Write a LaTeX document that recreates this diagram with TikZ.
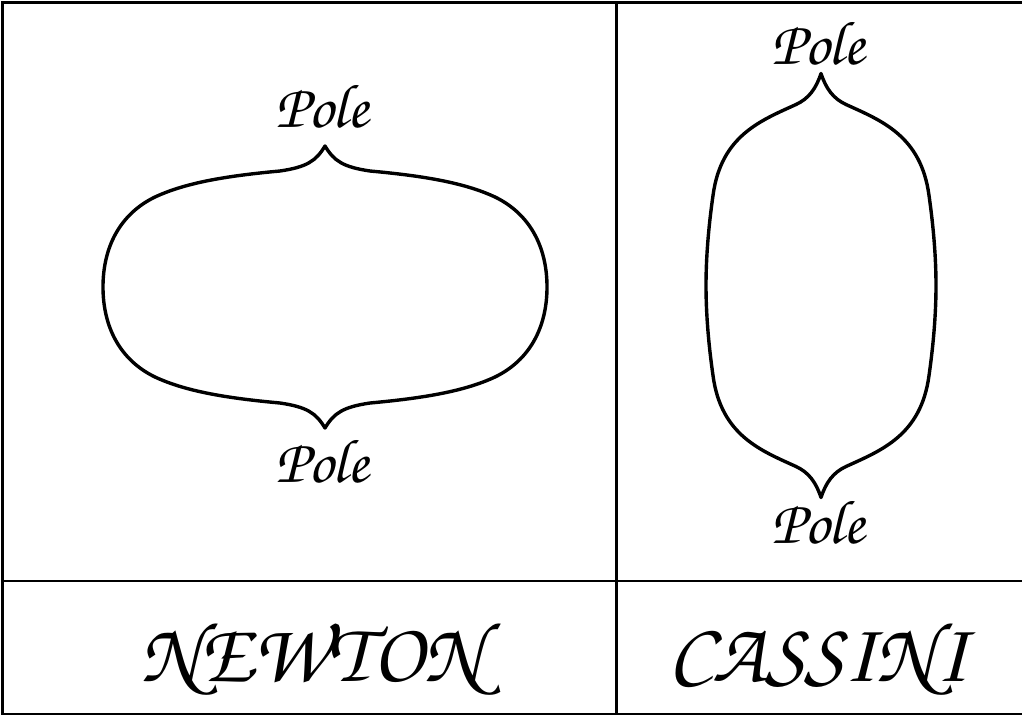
\documentclass[tikz,border=0pt]{standalone}
\newcommand{\chanc}{\fontencoding{T1}\fontfamily{pzc}\fontseries{mb}\fontshape{it}\selectfont}
\begin{document}
\begin{tikzpicture}[x=1pt,y=-1pt,
  frame/.style={line width=2.2pt,black},
  outline/.style={line width=3.4pt,black,line join=round},
  polelabel/.style={inner sep=0pt,font=\chanc\fontsize{62}{62}\selectfont},
  namelabel/.style={inner sep=0pt,font=\chanc\fontsize{85}{85}\selectfont}]
\useasboundingbox (0,0) rectangle (1022,715);
% frame and dividers
\draw[frame] (1030,2.5) -- (2.5,2.5) -- (2.5,714) -- (1030,714);
\coordinate (vtop) at (616.5,2.5);
\coordinate (vbot) at (616.5,714);
\coordinate (hl) at (2.5,581);
\coordinate (hr) at (1030,581);
\draw[frame] (vtop) -- (vbot);
\draw[frame] (hl) -- (hr);
% Newton figure
\begin{scope}[shift={(325,287)}]
\draw[outline] (0,-141) .. controls (9,-126) and (18,-120) .. (45,-116)
  .. controls (100,-111) and (140,-104) .. (170,-90)
  .. controls (205,-73) and (222,-40) .. (222,0)
  .. controls (222,40) and (205,73) .. (170,90)
  .. controls (140,104) and (100,111) .. (45,116)
  .. controls (18,120) and (9,126) .. (0,141)
  .. controls (-9,126) and (-18,120) .. (-45,116)
  .. controls (-100,111) and (-140,104) .. (-170,90)
  .. controls (-205,73) and (-222,40) .. (-222,0)
  .. controls (-222,-40) and (-205,-73) .. (-170,-90)
  .. controls (-140,-104) and (-100,-111) .. (-45,-116)
  .. controls (-18,-120) and (-9,-126) .. (0,-141) -- cycle;
\end{scope}
% Cassini figure
\begin{scope}[shift={(821,285.5)}]
\draw[outline] (0,-212) .. controls (5,-197) and (12,-187) .. (25,-181)
  .. controls (60,-165) and (100,-150) .. (108,-90)
  .. controls (113,-55) and (115,-25) .. (115,0)
  .. controls (115,25) and (113,55) .. (108,90)
  .. controls (100,150) and (60,165) .. (25,181)
  .. controls (12,187) and (5,197) .. (0,212)
  .. controls (-5,197) and (-12,187) .. (-25,181)
  .. controls (-60,165) and (-100,150) .. (-108,90)
  .. controls (-113,55) and (-115,25) .. (-115,0)
  .. controls (-115,-25) and (-113,-55) .. (-108,-90)
  .. controls (-100,-150) and (-60,-165) .. (-25,-181)
  .. controls (-12,-187) and (-5,-197) .. (0,-212) -- cycle;
\end{scope}
% labels
\node[polelabel,anchor=base] (np1) at (322,127) {Pole};
\node[polelabel,anchor=base] (np2) at (322,482) {Pole};
\node[polelabel,anchor=base] (cp1) at (818,64) {Pole};
\node[polelabel,anchor=base] (cp2) at (818,543) {Pole};
\node[namelabel,anchor=base] (newton) at (312,681) {NEWTON};
\node[namelabel,anchor=base] (cassini) at (818,681) {CASSINI};
\end{tikzpicture}
\end{document}
